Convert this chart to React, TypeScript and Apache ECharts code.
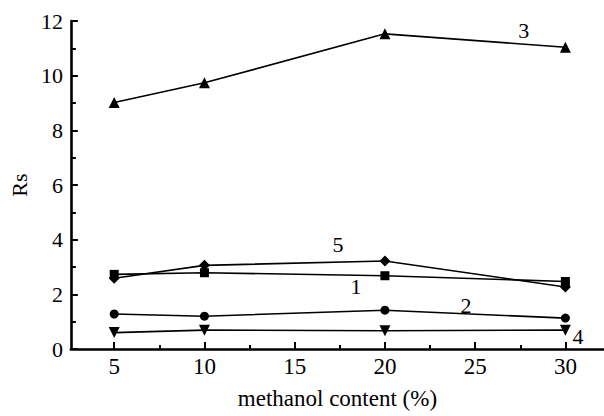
import React, { useEffect, useRef } from "react";
import * as echarts from "echarts";

const methanol = [5, 10, 20, 30];
const s1 = [2.73, 2.79, 2.68, 2.47];
const s2 = [1.28, 1.2, 1.42, 1.13];
const s3 = [9.02, 9.74, 11.53, 11.04];
const s4 = [0.6, 0.69, 0.67, 0.69];
const s5 = [2.59, 3.06, 3.22, 2.27];
const xMajorTicks = [5, 10, 15, 20, 25, 30];
const xMinorTicks = [7.5, 12.5, 17.5, 22.5, 27.5];
const seriesLabels = [
  { name: "1", x: 18.4, y: 2.3 },
  { name: "2", x: 24.5, y: 1.6 },
  { name: "3", x: 27.7, y: 11.64 },
  { name: "4", x: 30.7, y: 0.44 },
  { name: "5", x: 17.4, y: 3.83 },
];

const FONT = "Liberation Serif";

export default function App() {
  const ref = useRef<HTMLDivElement>(null);
  useEffect(() => {
    if (!ref.current) return;
    const chart = echarts.init(ref.current, undefined, { renderer: "svg" });
    const mk = (vals: number[], symbol: string, size: number, idx: number, rot = 0) => {
      const lab = seriesLabels[idx];
      return {
        type: "line",
        xAxisIndex: 0,
        data: methanol.map((m, i) => [m, vals[i]]),
        symbol,
        symbolSize: size,
        symbolRotate: rot,
        showAllSymbol: true,
        lineStyle: { color: "#000", width: 1.6 },
        itemStyle: { color: "#000" },
        z: 3,
        markPoint: {
          symbol: "circle",
          symbolSize: 0,
          data: [{ coord: [lab.x, lab.y], value: lab.name }],
          label: {
            show: true,
            position: "inside",
            formatter: lab.name,
            color: "#000",
            fontFamily: FONT,
            fontSize: 22,
          },
        },
      };
    };
    chart.setOption({
      animation: false,
      backgroundColor: "#fff",
      textStyle: { fontFamily: FONT },
      grid: { left: 69, top: 21, width: 535, height: 328 },
      xAxis: [
        {
          type: "value",
          min: 2.6,
          max: 32.14,
          position: "bottom",
          axisLine: { show: true, lineStyle: { color: "#000", width: 2.6 } },
          axisTick: {
            show: true,
            inside: true,
            length: 7,
            customValues: xMajorTicks,
            lineStyle: { color: "#000", width: 2 },
          },
          axisLabel: {
            customValues: xMajorTicks,
            color: "#000",
            fontFamily: FONT,
            fontSize: 23,
            margin: 6,
          },
          splitLine: { show: false },
          name: "methanol content (%)",
          nameLocation: "middle",
          nameGap: 38,
          nameTextStyle: { color: "#000", fontFamily: FONT, fontSize: 23 },
        },
        {
          type: "value",
          min: 2.6,
          max: 32.14,
          position: "bottom",
          axisLine: { show: false },
          axisTick: {
            show: true,
            inside: true,
            length: 4,
            customValues: xMinorTicks,
            lineStyle: { color: "#000", width: 2 },
          },
          axisLabel: { show: false },
          splitLine: { show: false },
        },
      ],
      yAxis: {
        type: "value",
        min: 0,
        max: 12,
        interval: 2,
        axisLine: { show: true, lineStyle: { color: "#000", width: 2.6 } },
        axisTick: { show: true, inside: true, length: 7, lineStyle: { color: "#000", width: 2 } },
        minorTick: { show: true, splitNumber: 2, length: 5, lineStyle: { color: "#000", width: 2 } },
        axisLabel: { color: "#000", fontFamily: FONT, fontSize: 22, margin: 8 },
        splitLine: { show: false },
        name: "Rs",
        nameLocation: "middle",
        nameGap: 40,
        nameTextStyle: { color: "#000", fontFamily: FONT, fontSize: 22 },
      },
      series: [
        mk(s1, "rect", 9, 0),
        mk(s2, "circle", 9, 1),
        mk(s3, "triangle", 11, 2),
        mk(s4, "triangle", 11, 3, 180),
        mk(s5, "diamond", 11, 4),
      ],
    });
    return () => chart.dispose();
  }, []);
  return (
    <div
      ref={ref}
      style={{ position: "fixed", left: 0, top: 0, width: 604, height: 416, background: "#fff" }}
    />
  );
}
